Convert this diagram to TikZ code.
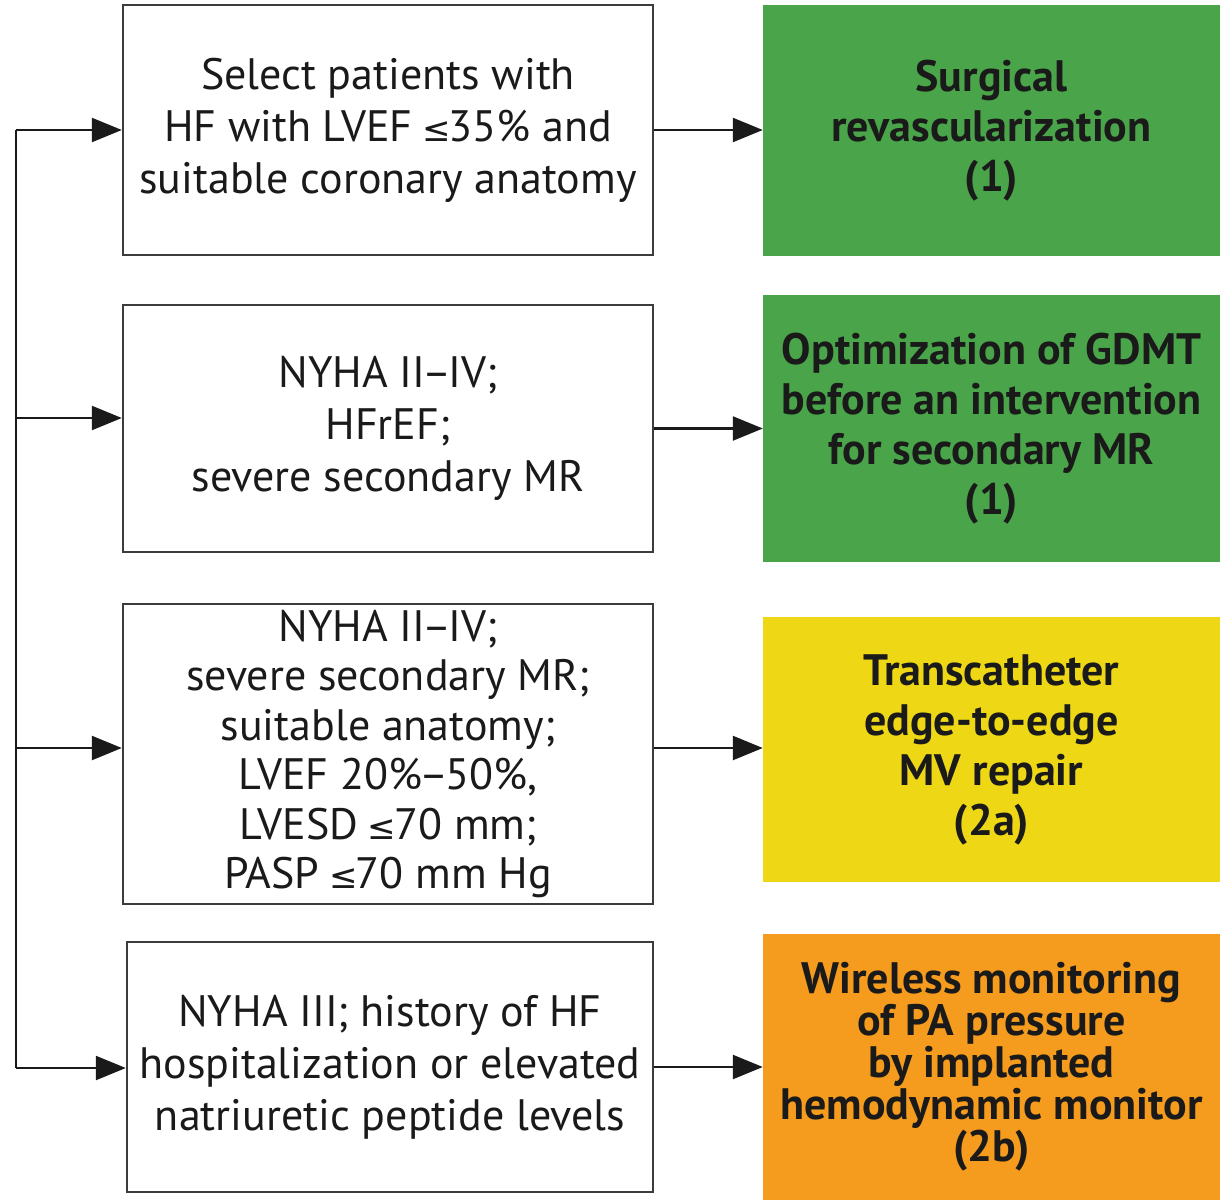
\documentclass[tikz,border=0pt]{standalone}
\usepackage{fontspec}
\setmainfont{PT Sans}
\newfontfamily\symfont{DejaVu Sans}
\newcommand{\lesign}{\kern-2pt{\symfont\fontsize{34}{34}\selectfont ≤}\kern-2pt}
\newcommand{\ndsh}{\kern-3pt–\kern-3pt}
\usetikzlibrary{arrows.meta,calc}
\definecolor{gr}{HTML}{4AA54A}
\definecolor{ye}{HTML}{EED815}
\definecolor{orn}{HTML}{F59B1E}
\definecolor{ink}{HTML}{1A1A1A}
\begin{document}
\begin{tikzpicture}[x=1pt,y=-1pt,
  crit/.style={draw=ink!85,line width=2.4pt,fill=white,align=center,text=ink,
    font=\fontsize{44}{52}\selectfont,inner sep=0pt},
  rec/.style={draw=none,align=center,text=ink,
    font=\fontsize{44}{50}\selectfont\bfseries,inner sep=0pt},
  conn/.style={line width=2.4pt,draw=ink,-{Triangle[length=30pt,width=24pt]}},
  bus/.style={line width=2.4pt,draw=ink}]
\useasboundingbox (0,0) rectangle (1220,1199);
\fill[white] (0,0) rectangle (1220,1199);
% left criteria boxes
\node[crit,minimum width=530pt,minimum height=250pt] (c1) at (388,130) {Select patients with\\HF with LVEF \lesign35\% and\\suitable coronary anatomy};
\node[crit,minimum width=530pt,minimum height=247pt] (c2) at (388,428.5) {NYHA II\ndsh IV;\\HFrEF;\\severe secondary MR};
\node[crit,minimum width=530pt,minimum height=300pt,font=\fontsize{44}{49.5}\selectfont] (c3) at (388,754) {NYHA II\ndsh IV;\\severe secondary MR;\\suitable anatomy;\\LVEF 20\%\ndsh 50\%,\\LVESD \lesign70 mm;\\PASP \lesign70 mm Hg};
\node[crit,minimum width=526pt,minimum height=250pt] (c4) at (390,1067) {NYHA III; history of HF\\hospitalization or elevated\\natriuretic peptide levels};
% right recommendation boxes
\node[rec,fill=gr,minimum width=457pt,minimum height=251pt] (r1) at (991.5,130.5) {Surgical\\revascularization\\(1)};
\node[rec,fill=gr,minimum width=457pt,minimum height=267pt] (r2) at (991.5,428.5) {Optimization of GDMT\\before an intervention\\for secondary MR\\(1)};
\node[rec,fill=ye,minimum width=457pt,minimum height=265pt] (r3) at (991.5,749.5) {Transcatheter\\edge-to-edge\\MV repair\\(2a)};
\node[rec,fill=orn,minimum width=457pt,minimum height=267pt,font=\fontsize{44}{42}\selectfont\bfseries] (r4) at (991.5,1067) {Wireless monitoring\\of PA pressure\\by implanted\\hemodynamic monitor\\(2b)};
% bus
\coordinate (b1) at (16,130);
\coordinate (b2) at (16,418);
\coordinate (b3) at (16,748);
\coordinate (b4) at (16,1068);
\draw[bus] (b1) -- (b4);
\draw[conn] (b1) -- (b1 -| c1.west);
\draw[conn] (b2) -- (b2 -| c2.west);
\draw[conn] (b3) -- (b3 -| c3.west);
\draw[conn] (b4) -- (b4 -| c4.west);
% outputs
\draw[conn] (c1.east) -- (c1.east -| r1.west);
\draw[conn] (c2.east) -- (c2.east -| r2.west);
\draw[conn] (b3 -| c3.east) -- (b3 -| r3.west);
\draw[conn] (c4.east) -- (c4.east -| r4.west);
\end{tikzpicture}
\end{document}
